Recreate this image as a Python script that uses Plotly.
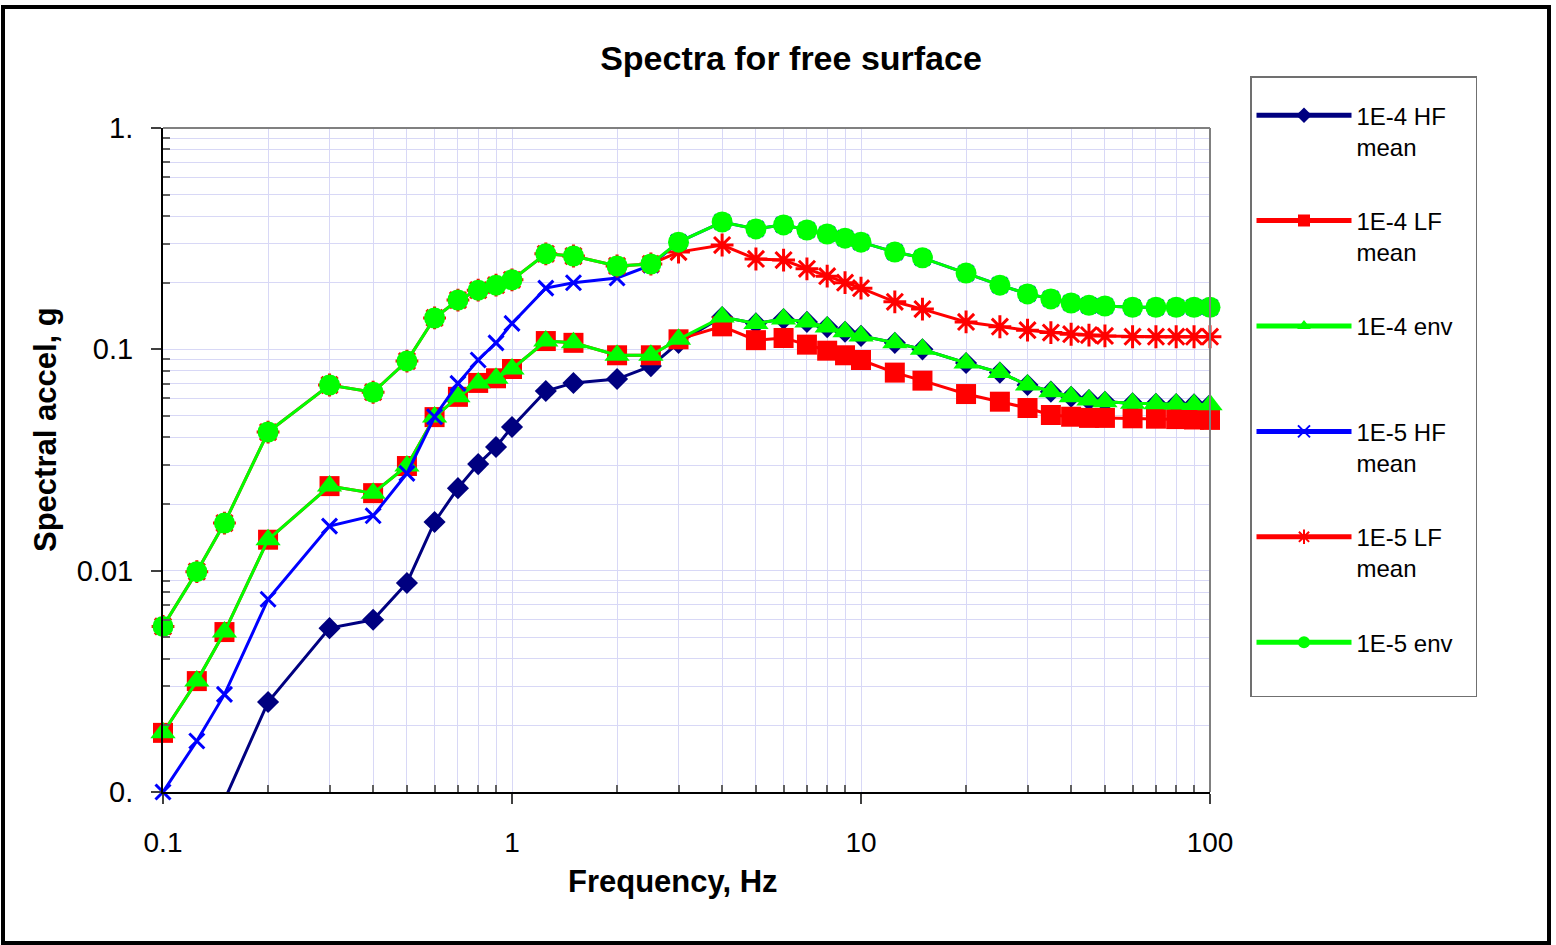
import plotly.graph_objects as go

# Frequencies (Hz) shared by all spectra
freq = [0.1, 0.125, 0.15, 0.2, 0.3, 0.4, 0.5, 0.6, 0.7, 0.8, 0.9, 1.0,
        1.25, 1.5, 2.0, 2.5, 3.0, 4.0, 5.0, 6.0, 7.0, 8.0, 9.0, 10.0,
        12.5, 15.0, 20.0, 25.0, 30.0, 35.0, 40.0, 45.0, 50.0, 60.0, 70.0,
        80.0, 90.0, 100.0]

# Spectral acceleration (g)
hf_mean_1e4 = [0.0004, 0.0006, 0.00092, 0.00255, 0.0055, 0.006, 0.0088, 0.0166,
               0.0236, 0.0303, 0.0362, 0.0446, 0.0648, 0.0705, 0.0734, 0.084,
               0.107, 0.140, 0.131, 0.137, 0.133, 0.126, 0.120, 0.115, 0.107,
               0.100, 0.0867, 0.0785, 0.069, 0.0644, 0.0611, 0.059, 0.058,
               0.057, 0.0568, 0.0566, 0.0564, 0.0562]
lf_mean_1e4 = [0.00185, 0.00317, 0.00528, 0.0138, 0.0241, 0.0224, 0.0297, 0.0494,
               0.061, 0.0705, 0.074, 0.0815, 0.109, 0.107, 0.094, 0.094, 0.111,
               0.127, 0.110, 0.1125, 0.105, 0.0986, 0.094, 0.0895, 0.0785,
               0.0722, 0.0628, 0.058, 0.0543, 0.0505, 0.0496, 0.049, 0.049,
               0.0488, 0.0486, 0.0484, 0.0482, 0.048]
env_1e4 = [0.00185, 0.00317, 0.00528, 0.0138, 0.0241, 0.0224, 0.0297, 0.0494,
           0.061, 0.0705, 0.074, 0.0815, 0.109, 0.107, 0.094, 0.094, 0.111,
           0.140, 0.131, 0.137, 0.133, 0.126, 0.120, 0.115, 0.107, 0.100,
           0.0867, 0.0785, 0.069, 0.0644, 0.0611, 0.059, 0.058, 0.057,
           0.0568, 0.0566, 0.0564, 0.0562]
hf_mean_1e5 = [0.001, 0.0017, 0.00276, 0.00743, 0.0159, 0.0177, 0.0275, 0.0496,
               0.0702, 0.0895, 0.107, 0.131, 0.189, 0.200, 0.210, 0.240, 0.305,
               0.376, 0.350, 0.365, 0.346, 0.332, 0.318, 0.305, 0.275, 0.259,
               0.221, 0.195, 0.178, 0.169, 0.162, 0.158, 0.157, 0.155, 0.155,
               0.155, 0.155, 0.155]
lf_mean_1e5 = [0.0056, 0.0099, 0.0164, 0.0423, 0.069, 0.064, 0.0885, 0.1386,
               0.167, 0.185, 0.195, 0.206, 0.27, 0.264, 0.238, 0.243, 0.275,
               0.296, 0.256, 0.253, 0.231, 0.214, 0.200, 0.189, 0.164, 0.152,
               0.133, 0.1265, 0.122, 0.119, 0.117, 0.116, 0.115, 0.114, 0.114,
               0.114, 0.114, 0.114]
env_1e5 = [0.0056, 0.0099, 0.0164, 0.0423, 0.069, 0.064, 0.0885, 0.1386,
           0.167, 0.185, 0.195, 0.206, 0.27, 0.264, 0.238, 0.243, 0.305,
           0.376, 0.350, 0.365, 0.346, 0.332, 0.318, 0.305, 0.275, 0.259,
           0.221, 0.195, 0.178, 0.169, 0.162, 0.158, 0.157, 0.155, 0.155,
           0.155, 0.155, 0.155]

# Every legend entry spans two lines so the entries are evenly spaced;
# the blank line of the first env entry also sets the legend box width.
BLANK = "&nbsp;"
series_names = ["1E-4 HF<br>mean", "1E-4 LF<br>mean",
                "1E-4 env<br>" + BLANK * 17,
                "1E-5 HF<br>mean", "1E-5 LF<br>mean",
                "1E-5 env<br>" + BLANK]

y_tick_vals = [0.001, 0.01, 0.1, 1]
y_tick_text = ["0.", "0.01", "0.1", "1."]
x_tick_vals = [0.1, 1, 10, 100]
x_tick_text = ["0.1", "1", "10", "100"]

FONT = "Liberation Sans, Arial, sans-serif"
NAVY, RED, GREEN, BLUE = "#000080", "#FF0000", "#00FF00", "#0000FF"
GRID = "#D8D8F6"

# Plot-area pixel geometry, used to place paper-referenced decorations
W, H = 1556, 945
L, R, T, B = 163, 346, 128, 153
PW, PH = W - L - R, H - T - B


def px_x(p):
    return (p - L) / PW


def px_y(p):
    return (H - B - p) / PH


styles = [
    (hf_mean_1e4, NAVY, dict(symbol="diamond", size=17, color=NAVY), True),
    (lf_mean_1e4, RED, dict(symbol="square", size=20, color=RED), False),
    (env_1e4, GREEN, dict(symbol="triangle-up", size=22, color=GREEN), False),
    (hf_mean_1e5, BLUE, dict(symbol="x-thin-open", size=15, color=BLUE,
                             line=dict(width=3, color=BLUE)), False),
    (lf_mean_1e5, RED, dict(symbol="asterisk-open", size=19, color=RED,
                            line=dict(width=3, color=RED)), False),
    (env_1e5, GREEN, dict(symbol="circle", size=21, color=GREEN), False),
]

fig = go.Figure()
for i, (vals, col, mk, clip) in enumerate(styles):
    fig.add_trace(go.Scatter(
        x=freq, y=vals, name=series_names[i], mode="lines+markers",
        line=dict(color=col, width=3), marker=mk, cliponaxis=clip,
        legendgroup=f"g{i}",
    ))

axis_common = dict(
    type="log", showline=True, linecolor="black", linewidth=2,
    showgrid=True, gridcolor=GRID, gridwidth=1, zeroline=False,
    ticks="outside", ticklen=10, tickwidth=2, tickcolor="#404040",
)

fig.update_xaxes(
    range=[-1, 2], tickvals=x_tick_vals, ticktext=x_tick_text,
    ticklabelstandoff=14,
    tickfont=dict(family=FONT, size=28, color="black"),
    minor=dict(tickvals=[m * d for d in (0.1, 1, 10) for m in range(2, 10)],
               ticks="inside", ticklen=7, tickcolor="#606060", tickwidth=2,
               showgrid=True, gridcolor=GRID, gridwidth=1),
    **axis_common,
)
fig.update_yaxes(
    range=[-3, 0], tickvals=y_tick_vals, ticktext=y_tick_text,
    ticklabelstandoff=12,
    tickfont=dict(family=FONT, size=29, color="black"),
    minor=dict(tickvals=[m * d for d in (0.001, 0.01, 0.1) for m in range(2, 10)],
               ticks="inside", ticklen=7, tickcolor="#606060", tickwidth=2,
               showgrid=True, gridcolor=GRID, gridwidth=1),
    **axis_common,
)

fig.update_layout(
    width=W, height=H,
    margin=dict(l=L, r=R, t=T, b=B),
    paper_bgcolor="white", plot_bgcolor="white",
    font=dict(family=FONT, color="black"),
    title=dict(text="Spectra for free surface", x=791 / W, xanchor="center",
               y=1 - 58 / H, yanchor="middle",
               font=dict(family=FONT, size=34, weight="bold", color="black")),
    legend=dict(
        x=px_x(1250), y=px_y(76), xanchor="left", yanchor="top",
        bgcolor="white", bordercolor="#707070", borderwidth=1.5,
        font=dict(family=FONT, size=24, color="black"),
        itemsizing="constant", itemwidth=95, valign="top",
        tracegroupgap=40, maxheight=760,
        title=dict(text=BLANK, font=dict(size=12)),
    ),
    annotations=[
        dict(text="Frequency, Hz", xref="paper", yref="paper",
             x=px_x(673), y=px_y(882), xanchor="center", yanchor="middle",
             showarrow=False,
             font=dict(family=FONT, size=31, weight="bold", color="black")),
        dict(text="Spectral accel, g", xref="paper", yref="paper",
             x=px_x(45), y=px_y(430), xanchor="center", yanchor="middle",
             textangle=-90, showarrow=False,
             font=dict(family=FONT, size=31, weight="bold", color="black")),
    ],
    shapes=[
        # top and right frame of the plotting area
        dict(type="line", xref="paper", yref="paper", x0=0, x1=1, y0=1, y1=1,
             line=dict(color="#808080", width=2)),
        dict(type="line", xref="paper", yref="paper", x0=1, x1=1, y0=0, y1=1,
             line=dict(color="#808080", width=2)),
        # outer chart border
        dict(type="rect", xref="paper", yref="paper",
             x0=px_x(3), x1=px_x(1549), y0=px_y(943), y1=px_y(7),
             line=dict(color="black", width=4), layer="above"),
    ],
)

fig.write_html("out.html")
